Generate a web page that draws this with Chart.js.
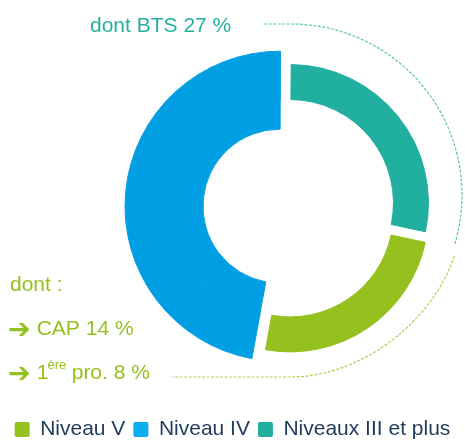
<!DOCTYPE html>
<html>
<head>
<meta charset="utf-8">
<script src="https://cdn.jsdelivr.net/npm/chart.js@4/dist/chart.umd.min.js"></script>
<style>
  html, body { margin: 0; padding: 0; background: #ffffff; }
  #wrap { width: 465px; height: 440px; position: relative; }
</style>
</head>
<body>
<div id="wrap"><canvas id="c" width="465" height="440"></canvas></div>
<script>
// ---- data ----
const categories = ['Niveau V', 'Niveau IV', 'Niveaux III et plus'];
const shares = [24.5, 47.3, 28.2];            // % of each level (read from the ring)
const btsLabel = 'dont BTS';
const btsValue = 27;                          // % BTS (within "Niveaux III et plus")
const levelVLabels = ['CAP', '1', 'ère', 'pro.'];
const levelVValues = [14, 8];                 // % CAP, % 1ère pro.

// ---- styles ----
const arcColors = ['#95C11F', '#009FE3', '#21AFA0'];
const legendColors = ['#95C11F', '#0AAEEF', '#21AFA0'];
const none = 'rgba(0,0,0,0)';
const blueOnly = arcColors.map((c, i) => (i === 1 ? c : none));
const offsets = [33.2, 21.7, 23.7];
const FONT = "'Liberation Sans', Arial, sans-serif";

Chart.defaults.font.family = FONT;

const annotations = {
  id: 'annotations',
  afterDraw(chart) {
    const ctx = chart.ctx;
    const ref = chart.getDatasetMeta(1).data[0];
    const cx = ref.x, cy = ref.y;
    ctx.save();
    // dashed brace for Niveaux III et plus
    ctx.setLineDash([3, 1.5]);
    ctx.lineWidth = 1.2;
    ctx.strokeStyle = '#5CC2B8';
    ctx.beginPath();
    ctx.moveTo(cx - 21.4, cy - 182.7);
    ctx.arc(cx + 5.6, cy - 11.7, 171, -Math.PI / 2, 17 * Math.PI / 180);
    ctx.stroke();
    // dashed brace for Niveau V
    ctx.strokeStyle = '#AFD15A';
    ctx.beginPath();
    ctx.moveTo(cx + 168.9, cy + 49.3);
    ctx.bezierCurveTo(cx + 148.7, cy + 111.1, cx + 79.6, cy + 170.3, cx + 4.6, cy + 170.3);
    ctx.lineTo(cx - 113.4, cy + 170.3);
    ctx.stroke();
    ctx.setLineDash([]);

    // texts
    ctx.textBaseline = 'alphabetic';
    ctx.textAlign = 'left';
    ctx.font = '21px ' + FONT;
    ctx.fillStyle = '#26AF9F';
    ctx.fillText(btsLabel + ' ' + btsValue + ' %', 90, 32);

    ctx.fillStyle = '#95C11F';
    ctx.fillText('dont :', 10, 291);
    ctx.fillText(levelVLabels[0] + ' ' + levelVValues[0] + ' %', 36.7, 335);
    ctx.fillText(levelVLabels[1], 36.7, 379);
    ctx.fillText(levelVLabels[3] + ' ' + levelVValues[1] + ' %', 71.7, 379);
    ctx.font = '13px ' + FONT;
    ctx.fillText(levelVLabels[2], 47.5, 369);
    ctx.font = "bold 27px 'DejaVu Sans'";
    ctx.fillText('\u2794', 8, 338);
    ctx.fillText('\u2794', 8, 382);
    ctx.restore();
  }
};

const chart = new Chart(document.getElementById('c'), {
  type: 'doughnut',
  data: {
    labels: categories,
    datasets: [
      { data: shares, weight: 12.2, backgroundColor: blueOnly, borderColor: blueOnly, borderWidth: 1, offset: offsets },
      { data: shares, weight: 35, backgroundColor: arcColors, borderColor: arcColors, borderWidth: 1, offset: offsets },
      { data: shares, weight: 30.8, backgroundColor: blueOnly, borderColor: blueOnly, borderWidth: 1, offset: offsets }
    ]
  },
  options: {
    responsive: false,
    animation: false,
    devicePixelRatio: 1,
    events: [],
    radius: 150.5,
    cutout: '48.2%',
    rotation: 102,
    layout: { padding: { top: 2.4, bottom: -10, left: 0, right: 0 } },
    plugins: {
      title: {
        display: true, position: 'left', text: ' ',
        font: { size: 10, lineHeight: 1 },
        padding: { top: 0, bottom: 95.8 }
      },
      tooltip: { enabled: false },
      legend: {
        display: true,
        position: 'bottom',
        labels: {
          boxWidth: 15,
          boxHeight: 15,
          padding: 8,
          useBorderRadius: true,
          borderRadius: 2,
          color: '#1F3B5C',
          font: { size: 21, family: FONT },
          generateLabels: () => categories.map((c, i) => ({
            text: c,
            fillStyle: legendColors[i],
            strokeStyle: legendColors[i],
            lineWidth: 0,
            hidden: false,
            index: i,
            fontColor: '#1F3B5C',
            borderRadius: 2
          }))
        }
      }
    }
  },
  plugins: [annotations]
});
</script>
</body>
</html>
